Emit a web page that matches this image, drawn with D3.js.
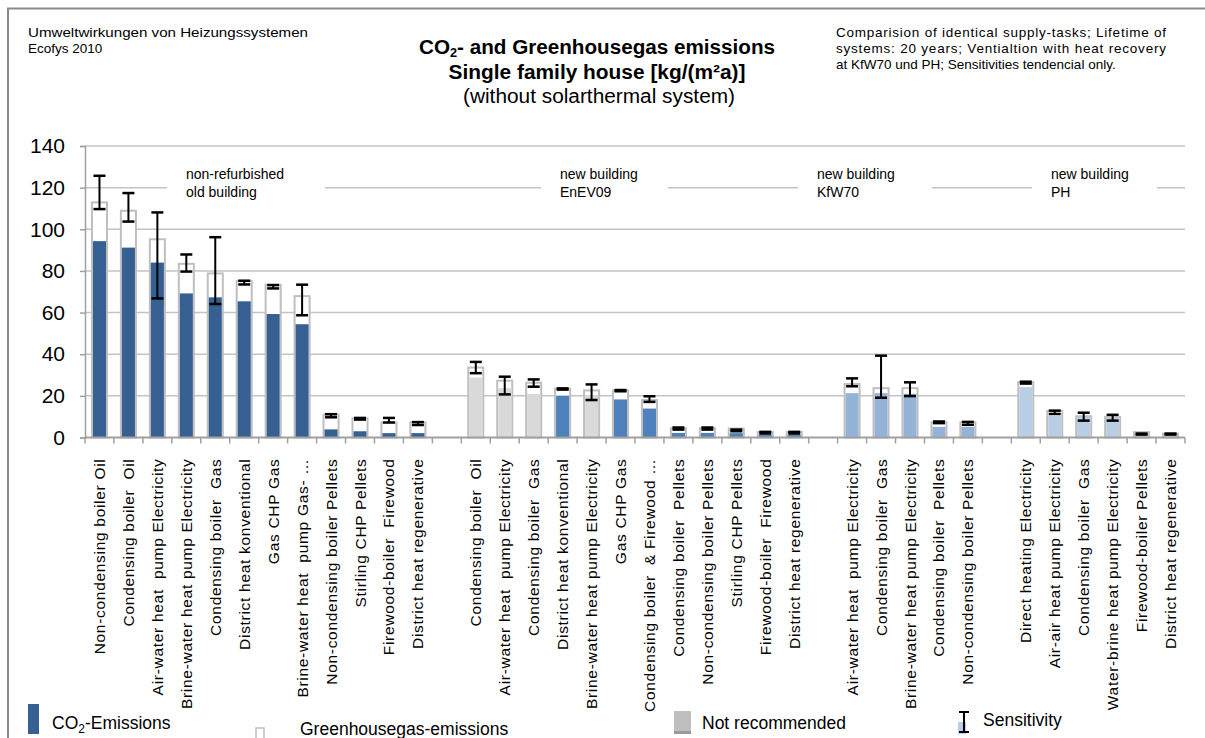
<!DOCTYPE html>
<html>
<head>
<meta charset="utf-8">
<script src="https://cdn.jsdelivr.net/npm/d3@7"></script>
<style>
  html, body { margin: 0; padding: 0; background: #fff; }
  svg { display: block; font-family: "Liberation Sans", Arial, sans-serif; }
  .xl { white-space: pre; }
</style>
</head>
<body>
<svg id="chart" width="1205" height="738"></svg>
<script>
// ---------- DATA ----------
// one entry per slot on the category axis; "" = empty gap slot between groups
const categories = [
  "Non-condensing boiler Oil", "Condensing boiler  Oil", "Air-water heat  pump Electricity",
  "Brine-water heat pump Electricity", "Condensing boiler  Gas", "District heat konventional",
  "Gas CHP Gas", "Brine-water heat  pump Gas- …", "Non-condensing boiler Pellets",
  "Stirling CHP Pellets", "Firewood-boiler  Firewood", "District heat regenerative",
  "",
  "Condensing boiler  Oil", "Air-water heat  pump Electricity", "Condensing boiler  Gas",
  "District heat konventional", "Brine-water heat pump Electricity", "Gas CHP Gas",
  "Condensing boiler  & Firewood …", "Condensing boiler  Pellets", "Non-condensing boiler Pellets",
  "Stirling CHP Pellets", "Firewood-boiler  Firewood", "District heat regenerative",
  "",
  "Air-water heat  pump Electricity", "Condensing boiler  Gas", "Brine-water heat pump Electricity",
  "Condensing boiler  Pellets", "Non-condensing boiler Pellets",
  "",
  "Direct heating Electricity", "Air-air heat pump Electricity", "Condensing boiler  Gas",
  "Water-brine heat pump Electricity", "Firewood-boiler Pellets", "District heat regenerative"
];
// building standard group of each slot (null = gap)
const groupOf = [
  "old","old","old","old","old","old","old","old","old","old","old","old", null,
  "enev","enev","enev","enev","enev","enev","enev","enev","enev","enev","enev","enev", null,
  "kfw","kfw","kfw","kfw","kfw", null,
  "ph","ph","ph","ph","ph","ph"
];
// not recommended systems (drawn grey)
const notRecommended = [
  0,0,0,0,0,0,0,0,0,0,0,0, 0,
  1,1,1,0,1,0,0,0,0,0,0,0, 0,
  0,0,0,0,0, 0,
  0,0,0,0,0,0
];
// CO2 emissions kg/(m²a)
const co2 = [
  94.3, 91.2, 84.0, 69.2, 67.3, 65.4, 59.3, 54.4, 3.9, 3.0, 2.1, 2.1, null,
  28.8, 23.7, 20.9, 20.1, 20.4, 18.3, 13.9, 2.2, 2.2, 2.1, 1.3, 1.3, null,
  21.3, 21.3, 21.0, 5.1, 5.1, null,
  24.2, 10.4, 9.9, 9.4, 1.6, 1.1
];
// greenhouse gas emissions kg/(m²a)
const ghg = [
  112.9, 108.9, 95.2, 83.4, 78.8, 75.1, 73.4, 67.9, 11.0, 9.3, 7.2, 7.3, null,
  33.6, 27.3, 26.3, 23.4, 22.6, 22.6, 18.0, 4.5, 4.5, 4.3, 2.7, 2.7, null,
  25.7, 23.7, 23.7, 7.3, 7.3, null,
  26.6, 12.8, 10.2, 9.9, 2.6, 1.9
];
// sensitivity range (low / high)
const sensLow = [
  109.7, 103.7, 66.8, 79.7, 64.1, 73.5, 71.6, 58.7, 9.7, 8.6, 7.2, 6.0, null,
  30.9, 20.7, 24.4, 23.0, 18.0, 22.2, 17.1, 3.8, 3.8, 3.0, 1.9, 1.9, null,
  24.6, 19.1, 19.9, 6.9, 6.1, null,
  25.9, 11.3, 8.1, 8.1, 1.4, 1.4
];
const sensHigh = [
  125.7, 117.4, 108.1, 87.9, 96.2, 75.3, 73.2, 73.4, 11.2, 9.4, 9.4, 7.4, null,
  36.3, 29.2, 27.9, 23.6, 25.5, 22.8, 19.8, 4.8, 4.8, 3.8, 2.7, 2.7, null,
  28.4, 39.3, 26.5, 7.7, 7.5, null,
  26.8, 12.9, 11.9, 10.9, 1.9, 1.9
];
const yTicks = [0, 20, 40, 60, 80, 100, 120, 140];
const groupLabels = [
  ["non-refurbished", "old building"],
  ["new building", "EnEV09"],
  ["new building", "KfW70"],
  ["new building", "PH"]
];
const legendLabels = ["CO₂-Emissions", "Greenhousegas-emissions", "Not recommended", "Sensitivity"];

// ---------- STYLE / LAYOUT ----------
const groupColor = { old: "#376092", enev: "#4f81bd", kfw: "#95b3d7", ph: "#b9cde5" };
const greyFill = "#d9d9d9";
const outline = "#bfbfbf";
const gridColor = "#c3c3c3";
const axisColor = "#a0a0a0";
// label box placement (text x, box left, box right) for the group annotations
const groupLabelPos = [
  { tx: 186, bl: 167, br: 325 },
  { tx: 560, bl: 541, br: 668 },
  { tx: 817, bl: 798, br: 932 },
  { tx: 1051, bl: 1032, br: 1157 }
];

const svg = d3.select("#chart");
const x = d3.scaleBand().domain(d3.range(categories.length)).range([85, 1185]).padding(0);
const y = d3.scaleLinear().domain([0, 140]).range([437.5, 146]);
const barW = x.bandwidth() * 0.52;
const cx = i => x(i) + x.bandwidth() / 2;

// frame
svg.append("path").attr("d", "M8,738 V8.5 H1205").attr("fill", "none").attr("stroke", "#8a8a8a").attr("stroke-width", 2);

// header texts
const hdr = svg.append("g").attr("fill", "#000");
hdr.append("text").attr("x", 28).attr("y", 37).attr("font-size", 13.5).attr("textLength", 280).attr("lengthAdjust", "spacingAndGlyphs").text("Umweltwirkungen von Heizungssystemen");
hdr.append("text").attr("x", 28).attr("y", 53).attr("font-size", 13.5).text("Ecofys 2010");

const t1 = hdr.append("text").attr("x", 597).attr("y", 54).attr("text-anchor", "middle").attr("font-size", 19.5).attr("font-weight", "bold").attr("textLength", 356).attr("lengthAdjust", "spacingAndGlyphs");
t1.append("tspan").text("CO");
t1.append("tspan").attr("font-size", 12).attr("dy", 3).text("2");
t1.append("tspan").attr("dy", -3).text("- and Greenhousegas emissions");
hdr.append("text").attr("x", 597).attr("y", 79).attr("text-anchor", "middle").attr("font-size", 19.5).attr("font-weight", "bold").attr("textLength", 297).attr("lengthAdjust", "spacingAndGlyphs").text("Single family house [kg/(m²a)]");
hdr.append("text").attr("x", 599).attr("y", 103).attr("text-anchor", "middle").attr("font-size", 19.5).attr("textLength", 272).attr("lengthAdjust", "spacingAndGlyphs").text("(without solarthermal system)");

const note = ["Comparision of identical supply-tasks; Lifetime of",
              "systems: 20 years; Ventialtion with heat recovery",
              "at KfW70 und PH; Sensitivities tendencial only."];
note.forEach((s, i) => {
  const t = hdr.append("text").attr("x", 836).attr("y", 37 + i * 16).attr("font-size", 13.5).text(s);
  if (i < 2) t.attr("textLength", 330).attr("lengthAdjust", "spacing");
});

// gridlines
svg.append("g").selectAll("line").data(yTicks.filter(d => d > 0)).join("line")
  .attr("x1", 85).attr("x2", 1185).attr("y1", d => y(d)).attr("y2", d => y(d))
  .attr("stroke", gridColor).attr("stroke-width", 1.5);

// y axis
const yAxis = svg.append("g").attr("transform", "translate(85,0)")
  .call(d3.axisLeft(y).tickValues(yTicks).tickSize(5).tickPadding(15));
yAxis.select(".domain").attr("stroke", axisColor).attr("stroke-width", 1.5);
yAxis.selectAll(".tick line").attr("stroke", axisColor).attr("stroke-width", 1.5);
yAxis.selectAll(".tick text").attr("font-size", 21).attr("fill", "#000").attr("font-family", "Liberation Sans, Arial, sans-serif");

// group label boxes (white boxes interrupting the 120 grid line)
const gl = svg.append("g");
groupLabels.forEach((lines, i) => {
  const p = groupLabelPos[i];
  gl.append("rect").attr("x", p.bl).attr("y", 163).attr("width", p.br - p.bl).attr("height", 38).attr("fill", "#fff");
  lines.forEach((s, j) => gl.append("text").attr("x", p.tx).attr("y", 179 + j * 18).attr("font-size", 14).text(s));
});

// bars
const idx = d3.range(categories.length).filter(i => groupOf[i] !== null);
const bars = svg.append("g");
bars.selectAll("rect.ghg").data(idx).join("rect").attr("class", "ghg")
  .attr("x", i => cx(i) - barW / 2).attr("width", barW)
  .attr("y", i => y(ghg[i])).attr("height", i => y(0) - y(ghg[i]))
  .attr("fill", "#fff").attr("stroke", outline).attr("stroke-width", 2);
bars.selectAll("rect.co2").data(idx).join("rect").attr("class", "co2")
  .attr("x", i => cx(i) - barW / 2 + 1).attr("width", barW - 2)
  .attr("y", i => y(co2[i])).attr("height", i => y(0) - y(co2[i]))
  .attr("fill", i => notRecommended[i] ? greyFill : groupColor[groupOf[i]]);

// error bars
const eb = svg.append("g").attr("stroke", "#000");
eb.selectAll("line.v").data(idx).join("line").attr("class", "v")
  .attr("x1", cx).attr("x2", cx).attr("y1", i => y(sensLow[i])).attr("y2", i => y(sensHigh[i])).attr("stroke-width", 2);
eb.selectAll("line.hi").data(idx).join("line").attr("class", "hi")
  .attr("x1", i => cx(i) - 6).attr("x2", i => cx(i) + 6).attr("y1", i => y(sensHigh[i])).attr("y2", i => y(sensHigh[i])).attr("stroke-width", 2.5);
eb.selectAll("line.lo").data(idx).join("line").attr("class", "lo")
  .attr("x1", i => cx(i) - 6).attr("x2", i => cx(i) + 6).attr("y1", i => y(sensLow[i])).attr("y2", i => y(sensLow[i])).attr("stroke-width", 2.5);

// x axis
const xAxis = svg.append("g").attr("transform", `translate(0,${y(0)})`);
xAxis.append("line").attr("x1", 85).attr("x2", 1185).attr("stroke", axisColor).attr("stroke-width", 2);
xAxis.selectAll("line.tk").data(d3.range(categories.length + 1)).join("line").attr("class", "tk")
  .attr("x1", i => 85 + i * x.step()).attr("x2", i => 85 + i * x.step())
  .attr("y1", 0).attr("y2", 6).attr("stroke", axisColor).attr("stroke-width", 1.5);
xAxis.selectAll("text").data(idx).join("text").attr("class", "xl")
  .attr("transform", i => `translate(${cx(i) + 5.5},21) rotate(-90)`)
  .attr("text-anchor", "end").attr("font-size", 15.5).attr("letter-spacing", 0.7)
  .text(i => categories[i]);

// legend
const lg = svg.append("g");
lg.append("rect").attr("x", 28).attr("y", 704).attr("width", 11).attr("height", 30).attr("fill", groupColor.old);
const l1 = lg.append("text").attr("x", 52).attr("y", 729).attr("font-size", 17.5);
l1.append("tspan").text("CO");
l1.append("tspan").attr("font-size", 12).attr("dy", 4).text("2");
l1.append("tspan").attr("dy", -4).text("-Emissions");
lg.append("rect").attr("x", 256).attr("y", 728).attr("width", 8).attr("height", 14).attr("fill", "#fff").attr("stroke", outline).attr("stroke-width", 1.5);
lg.append("text").attr("x", 300).attr("y", 735).attr("font-size", 17.5).text(legendLabels[1]);
lg.append("rect").attr("x", 674).attr("y", 711).attr("width", 17).attr("height", 22).attr("fill", "#bfbfbf");
lg.append("rect").attr("x", 674).attr("y", 731).attr("width", 17).attr("height", 3).attr("fill", "#9a9a9a");
lg.append("text").attr("x", 702).attr("y", 729).attr("font-size", 17.5).text(legendLabels[2]);
lg.append("rect").attr("x", 958).attr("y", 722).attr("width", 8).attr("height", 12).attr("fill", groupColor.ph);
lg.append("line").attr("x1", 964).attr("x2", 964).attr("y1", 712).attr("y2", 732).attr("stroke", "#000").attr("stroke-width", 2);
lg.append("line").attr("x1", 959).attr("x2", 969).attr("y1", 712).attr("y2", 712).attr("stroke", "#000").attr("stroke-width", 2);
lg.append("line").attr("x1", 959).attr("x2", 969).attr("y1", 732).attr("y2", 732).attr("stroke", "#000").attr("stroke-width", 2);
lg.append("text").attr("x", 983).attr("y", 726).attr("font-size", 17.5).text(legendLabels[3]);
</script>
</body>
</html>
